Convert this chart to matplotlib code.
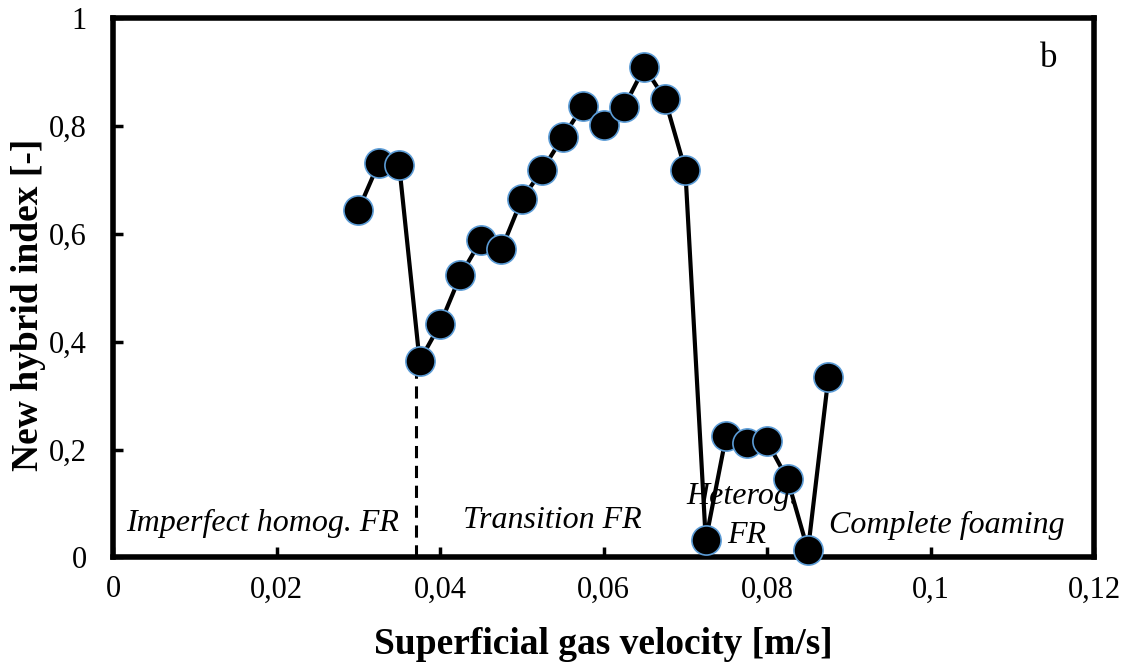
import numpy as np
import matplotlib
matplotlib.use("Agg")
import matplotlib.pyplot as plt

# Data
ug = [0.03, 0.0325, 0.035, 0.0375, 0.04, 0.0425, 0.045, 0.0475, 0.05, 0.0525,
      0.055, 0.0575, 0.06, 0.0625, 0.065, 0.0675, 0.07, 0.0725, 0.075, 0.0775,
      0.08, 0.0825, 0.085, 0.0875]
hybrid = [0.644, 0.731, 0.727, 0.364, 0.432, 0.523, 0.588, 0.571, 0.664, 0.718,
          0.779, 0.837, 0.801, 0.835, 0.909, 0.850, 0.718, 0.032, 0.226, 0.213,
          0.215, 0.145, 0.013, 0.334]
trans_x = 0.037
trans_y = 0.364

plt.rcParams['font.family'] = ['Liberation Serif', 'DejaVu Serif']

fig = plt.figure(figsize=(11.27, 6.66), dpi=100)
ax = fig.add_axes([0.1003, 0.163, 0.8705, 0.810])

ax.plot([trans_x, trans_x], [0, trans_y], color='black', lw=2.2, ls=(0, (4, 2.5)))
ax.plot(ug, hybrid, color='black', lw=3, marker='o', ms=21,
        markerfacecolor='black', markeredgecolor='#5b9bd5', markeredgewidth=1.2,
        zorder=3, clip_on=False)

ax.set_xlim(0, 0.12)
ax.set_ylim(0, 1)
xt = [0, 0.02, 0.04, 0.06, 0.08, 0.1, 0.12]
yt = [0, 0.2, 0.4, 0.6, 0.8, 1]
ax.set_xticks(xt)
ax.set_xticklabels(['0', '0,02', '0,04', '0,06', '0,08', '0,1', '0,12'])
ax.set_yticks(yt)
ax.set_yticklabels(['0', '0,2', '0,4', '0,6', '0,8', '1'])
ax.tick_params(direction='in', length=7, width=2.5, labelsize=22)
ax.tick_params(axis='x', pad=13)
ax.tick_params(axis='y', pad=19)
for s in ax.spines.values():
    s.set_linewidth(4)

ax.set_xlabel('Superficial gas velocity [m/s]', fontsize=27, fontweight='bold', labelpad=16)
ax.set_ylabel('New hybrid index [-]', fontsize=27, fontweight='bold')
ax.yaxis.set_label_coords(-0.068, 0.469)

tkw = dict(fontsize=23, style='italic', ha='center', va='center')
ax.text(0.0183, 0.063, 'Imperfect homog. FR', **tkw)
ax.text(0.0537, 0.068, 'Transition FR', **tkw)
ax.text(0.0770, 0.113, 'Heterog.', **tkw)
ax.text(0.0775, 0.040, 'FR', **tkw)
ax.text(0.1020, 0.060, 'Complete foaming', **tkw)
ax.text(0.1145, 0.925, 'b', fontsize=25, ha='center', va='center')

fig.savefig('out.png', dpi=100)
